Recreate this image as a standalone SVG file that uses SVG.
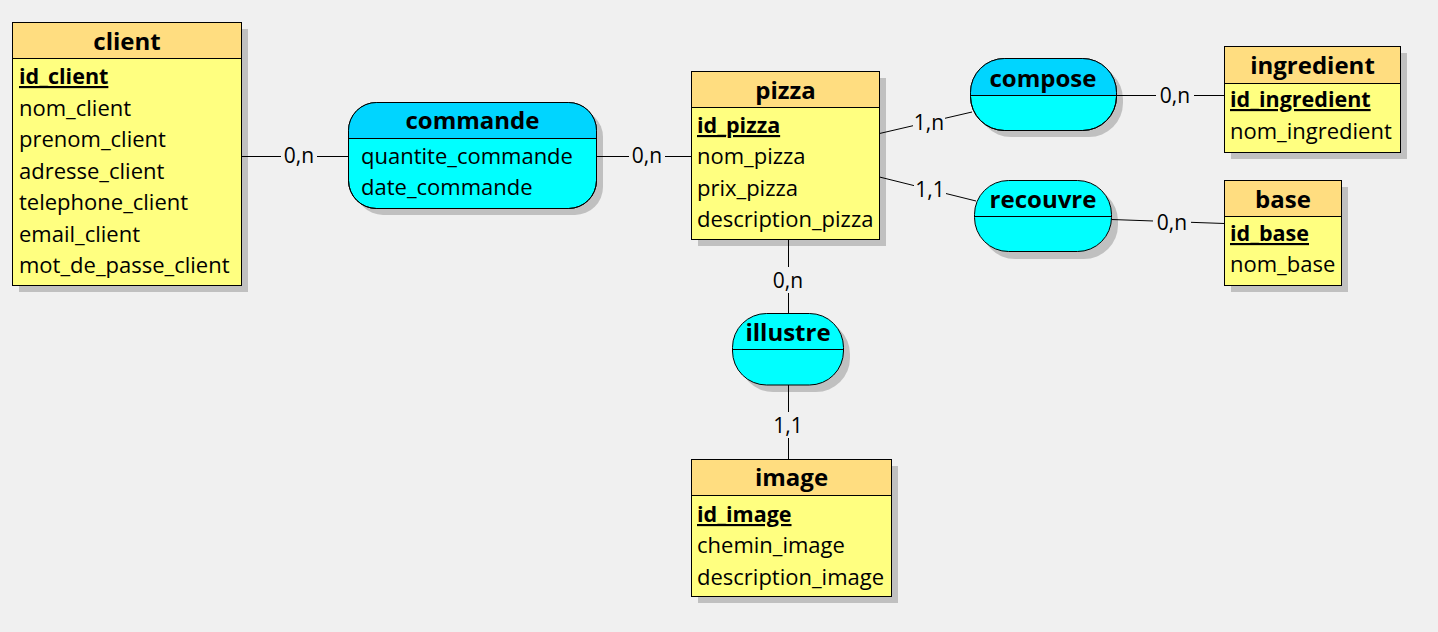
<svg xmlns="http://www.w3.org/2000/svg" width="1438" height="632" viewBox="0 0 1438 632">
  <style>
    .bg { fill: #f0f0f0; }
    .shadow { fill: #c0c0c0; }
    .ent { fill: #ffff80; stroke: #000; stroke-width: 1; }
    .enthead { fill: #ffdd80; }
    .assoc { fill: #00ffff; stroke: #000; stroke-width: 1; }
    .assochead { fill: #00d5ff; }
    .sep { stroke: #000; stroke-width: 1; }
    .title { font-family: "Open Sans", "Noto Sans", sans-serif; font-size: 24px; font-weight: bold; fill: #000; text-anchor: middle; }
    .attr { font-family: "Open Sans", "Noto Sans", sans-serif; font-size: 22px; fill: #000; }
    .key { font-weight: bold; text-decoration: underline; font-size: 21.5px; }
    .card { font-family: "Open Sans", "Noto Sans", sans-serif; font-size: 21px; fill: #000; text-anchor: middle; }
    .link { stroke: #000; stroke-width: 1; fill: none; }
    .lblbg { fill: #f0f0f0; }
  </style>
  <defs>
    <clipPath id="clip-commande"><rect x="348.5" y="102.5" width="248" height="106" rx="28" ry="28"/></clipPath>
    <clipPath id="clip-compose"><rect x="970.5" y="58.5" width="146" height="72" rx="34" ry="34"/></clipPath>
  </defs>

  <rect class="bg" x="0" y="0" width="1438" height="632"/>

  <!-- entity: client -->
  <g id="client">
    <rect class="shadow" x="19" y="29" width="229" height="263"/>
    <rect class="ent" x="12.5" y="22.5" width="229" height="263"/>
    <rect class="enthead" x="13" y="23" width="228" height="35.5"/>
    <line class="sep" x1="12.5" y1="58.5" x2="241.5" y2="58.5"/>
    <text class="title" x="127" y="50">client</text>
    <text class="attr key" x="19" y="84">id_client</text>
    <text class="attr" x="19" y="115.5">nom_client</text>
    <text class="attr" x="19" y="147">prenom_client</text>
    <text class="attr" x="19" y="178.5">adresse_client</text>
    <text class="attr" x="19" y="210">telephone_client</text>
    <text class="attr" x="19" y="241.5">email_client</text>
    <text class="attr" x="19" y="273">mot_de_passe_client</text>
  </g>

  <!-- association: commande -->
  <g id="commande">
    <rect class="shadow" x="355" y="109" width="248" height="106" rx="28" ry="28"/>
    <rect class="assoc" x="348.5" y="102.5" width="248" height="106" rx="28" ry="28"/>
    <rect class="assochead" x="348" y="102" width="249" height="36.5" clip-path="url(#clip-commande)"/>
    <rect x="348.5" y="102.5" width="248" height="106" rx="28" ry="28" fill="none" stroke="#000"/>
    <line class="sep" x1="348.5" y1="138.5" x2="596.5" y2="138.5"/>
    <text class="title" x="472.5" y="129">commande</text>
    <text class="attr" x="361" y="164">quantite_commande</text>
    <text class="attr" x="361" y="195">date_commande</text>
  </g>

  <!-- entity: pizza -->
  <g id="pizza">
    <rect class="shadow" x="698" y="78" width="188" height="168"/>
    <rect class="ent" x="691.5" y="71.5" width="188" height="168"/>
    <rect class="enthead" x="692" y="72" width="187" height="35.5"/>
    <line class="sep" x1="691.5" y1="107.5" x2="879.5" y2="107.5"/>
    <text class="title" x="785.5" y="99">pizza</text>
    <text class="attr key" x="697" y="133">id_pizza</text>
    <text class="attr" x="697" y="164">nom_pizza</text>
    <text class="attr" x="697" y="195.5">prix_pizza</text>
    <text class="attr" x="697" y="226.5">description_pizza</text>
  </g>

  <!-- association: compose -->
  <g id="compose">
    <rect class="shadow" x="977" y="65" width="146" height="72" rx="34" ry="34"/>
    <rect class="assoc" x="970.5" y="58.5" width="146" height="72" rx="34" ry="34"/>
    <rect class="assochead" x="970" y="58" width="147" height="37.5" clip-path="url(#clip-compose)"/>
    <rect x="970.5" y="58.5" width="146" height="72" rx="34" ry="34" fill="none" stroke="#000"/>
    <line class="sep" x1="970.5" y1="95.5" x2="1116.5" y2="95.5"/>
    <text class="title" x="1043" y="87">compose</text>
  </g>

  <!-- association: recouvre -->
  <g id="recouvre">
    <rect class="shadow" x="981" y="187" width="137" height="72" rx="34" ry="34"/>
    <rect class="assoc" x="974.5" y="180.5" width="137" height="71" rx="34" ry="34"/>
    <line class="sep" x1="974.5" y1="216.5" x2="1111.5" y2="216.5"/>
    <text class="title" x="1043" y="208">recouvre</text>
  </g>

  <!-- entity: ingredient -->
  <g id="ingredient">
    <rect class="shadow" x="1231" y="53" width="176" height="106"/>
    <rect class="ent" x="1224.5" y="46.5" width="176" height="106"/>
    <rect class="enthead" x="1225" y="47" width="175" height="36.5"/>
    <line class="sep" x1="1224.5" y1="83.5" x2="1400.5" y2="83.5"/>
    <text class="title" x="1312.5" y="74">ingredient</text>
    <text class="attr key" x="1230" y="107">id_ingredient</text>
    <text class="attr" x="1230" y="139">nom_ingredient</text>
  </g>

  <!-- entity: base -->
  <g id="base">
    <rect class="shadow" x="1231" y="187" width="117" height="105"/>
    <rect class="ent" x="1224.5" y="180.5" width="117" height="105"/>
    <rect class="enthead" x="1225" y="181" width="116" height="35.5"/>
    <line class="sep" x1="1224.5" y1="216.5" x2="1341.5" y2="216.5"/>
    <text class="title" x="1283" y="208">base</text>
    <text class="attr key" x="1230" y="241">id_base</text>
    <text class="attr" x="1230" y="272">nom_base</text>
  </g>

  <!-- association: illustre -->
  <g id="illustre">
    <rect class="shadow" x="739" y="320" width="111" height="72" rx="34" ry="34"/>
    <rect class="assoc" x="732.5" y="313.5" width="111" height="71.5" rx="34" ry="34"/>
    <line class="sep" x1="732.5" y1="349.5" x2="843.5" y2="349.5"/>
    <text class="title" x="788" y="341">illustre</text>
  </g>

  <!-- entity: image -->
  <g id="image">
    <rect class="shadow" x="698" y="466" width="200" height="137"/>
    <rect class="ent" x="691.5" y="459.5" width="200" height="137"/>
    <rect class="enthead" x="692" y="460" width="199" height="35.5"/>
    <line class="sep" x1="691.5" y1="495.5" x2="891.5" y2="495.5"/>
    <text class="title" x="791.5" y="486">image</text>
    <text class="attr key" x="697" y="522">id_image</text>
    <text class="attr" x="697" y="553">chemin_image</text>
    <text class="attr" x="697" y="585">description_image</text>
  </g>

  <!-- connectors with cardinalities, drawn over the node shadows -->
  <g id="connectors">
    <line class="link" x1="241.5" y1="156.5" x2="348.5" y2="156.5"/>
    <rect class="lblbg" x="281" y="144" width="36" height="24"/>
    <text class="card" x="299" y="163">0,n</text>

    <line class="link" x1="596.5" y1="156.5" x2="691.5" y2="156.5"/>
    <rect class="lblbg" x="629" y="144" width="36" height="24"/>
    <text class="card" x="647" y="163">0,n</text>

    <line class="link" x1="879.5" y1="133.5" x2="972" y2="112"/>
    <rect class="lblbg" x="913" y="112" width="32" height="24"/>
    <text class="card" x="929" y="130">1,n</text>

    <line class="link" x1="879.5" y1="177" x2="976" y2="201"/>
    <rect class="lblbg" x="914" y="178" width="32" height="24"/>
    <text class="card" x="930" y="197">1,1</text>

    <line class="link" x1="1116.5" y1="95.5" x2="1224.5" y2="95.5"/>
    <rect class="lblbg" x="1156" y="84" width="38" height="24"/>
    <text class="card" x="1175" y="103">0,n</text>

    <line class="link" x1="1111.5" y1="219.5" x2="1224.5" y2="223.5"/>
    <rect class="lblbg" x="1153" y="210" width="38" height="24"/>
    <text class="card" x="1172" y="230">0,n</text>

    <line class="link" x1="788.5" y1="239.5" x2="788.5" y2="313.5"/>
    <rect class="lblbg" x="770" y="267" width="37" height="26"/>
    <text class="card" x="788" y="288">0,n</text>

    <line class="link" x1="788.5" y1="385" x2="788.5" y2="459.5"/>
    <rect class="lblbg" x="771" y="412" width="35" height="26"/>
    <text class="card" x="788" y="433">1,1</text>
  </g>
</svg>
